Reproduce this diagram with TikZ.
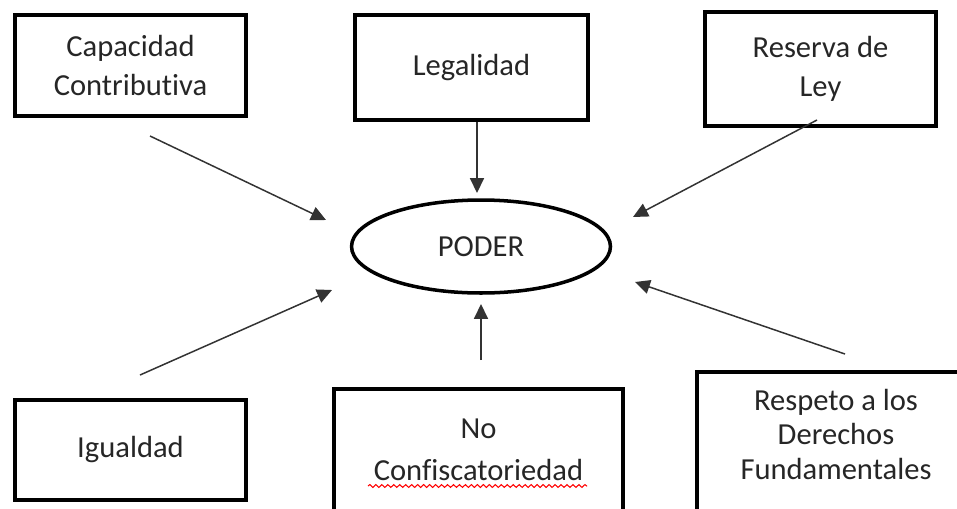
\documentclass[tikz,border=0pt]{standalone}
\usepackage{fontspec}
\setmainfont{Carlito}[Ligatures=NoCommon]
\tikzset{box/.style = {draw, line width=2.3pt, align=center, text=black!85, font=\fontsize{17.4}{22}\selectfont},
         link/.style = {draw=black!80, line width=0.85pt, -{Triangle[length=8.5pt,width=8pt]}}}
\usetikzlibrary{arrows.meta,shapes.geometric,
                decorations.pathmorphing}

\begin{document}
\begin{tikzpicture}[x=0.02cm,y=-0.02cm]
\useasboundingbox (0,0) rectangle (957,508);
\clip (0,0) rectangle (957,508);
\node [box, minimum width=4.62cm, minimum height=2.02cm] (cap) at (130.5,65.5) {Capacidad\\Contributiva};
\node [box, minimum width=4.66cm, minimum height=2.1cm] (leg) at (471.5,67.5) {Legalidad};
\node [box, minimum width=4.62cm, minimum height=2.28cm] (res) at (820.5,69) {Reserva de\\Ley};
\node [box, minimum width=4.62cm, minimum height=2cm] (igu) at (130.5,450) {Igualdad};
\node [box, minimum width=5.78cm, minimum height=2.44cm, font=\fontsize{17.4}{23.8}\selectfont] (noc) at (478.5,450) {No\\Confiscatoriedad};
\node [box, minimum width=6cm, minimum height=4cm, anchor=north west] (resp) at (695,370) {};
\node [box, draw=none, anchor=base, font=\fontsize{17.4}{19.5}\selectfont] (resptxt) at (836,479) {Respeto a los\\Derechos\\Fundamentales};
\node [box, shape=ellipse, line width=2pt, minimum width=5.18cm, minimum height=1.86cm] (poder) at (481,246.5) {PODER};
\draw [red, line width=0.6pt, decorate, decoration={snake, amplitude=0.8pt, segment length=3.4pt}] (368,486) -- (587,486);
\coordinate (capA) at (150,136);
\coordinate (capB) at (326,220);
\coordinate (legA) at (477,122);
\coordinate (legB) at (477,193);
\coordinate (resA) at (817,120);
\coordinate (resB) at (633,217);
\coordinate (iguA) at (140,375);
\coordinate (iguB) at (332,290);
\coordinate (nocA) at (481,360);
\coordinate (nocB) at (481,304);
\coordinate (respA) at (845,354);
\coordinate (respB) at (635,282);
\draw [link] (capA) -- (capB);
\draw [link] (legA) -- (legB);
\draw [link] (resA) -- (resB);
\draw [link] (iguA) -- (iguB);
\draw [link] (nocA) -- (nocB);
\draw [link] (respA) -- (respB);
\end{tikzpicture}
\end{document}
